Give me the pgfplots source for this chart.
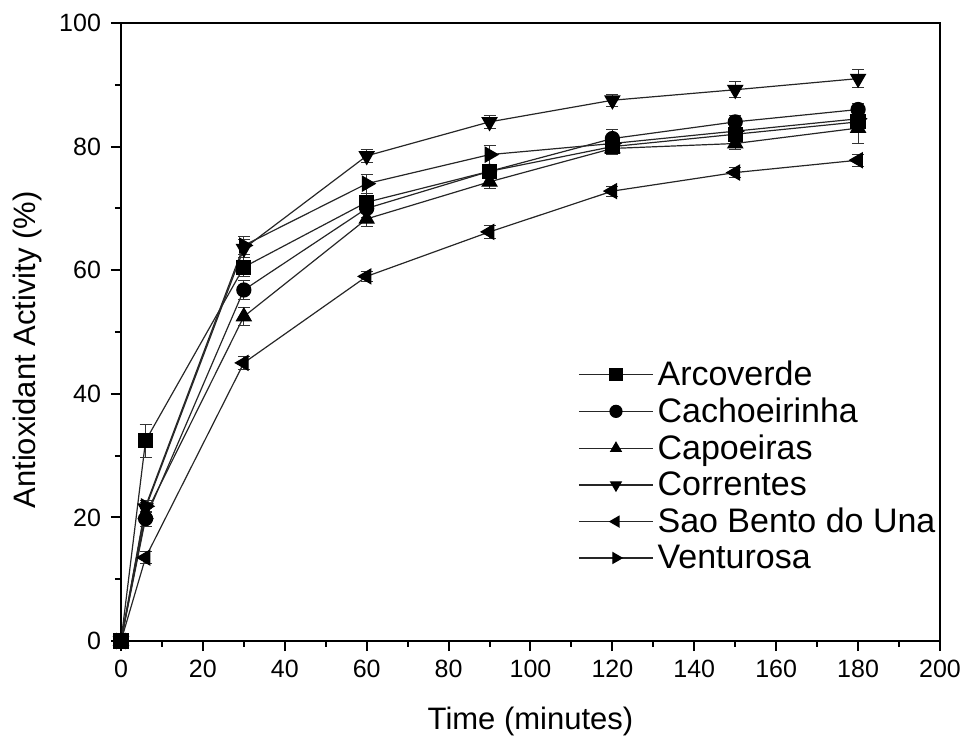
\documentclass[border=0pt]{standalone}
\usepackage{pgfplots}
\pgfplotsset{compat=1.18}
\usepackage{fontspec}
\setmainfont{Liberation Sans}
\begin{document}
\begin{tikzpicture}
\useasboundingbox (-60.5pt,-49.5pt) rectangle (422.5pt,320.5pt);
\begin{axis}[
  at={(0,0)}, anchor=south west,
  scale only axis, width=409.5pt, height=309pt,
  xmin=0, xmax=200, ymin=0, ymax=100,
  xtick={0,20,...,200}, ytick={0,20,...,100},
  minor xtick={10,30,...,190}, minor ytick={10,30,...,90},
  tick pos=left, tick align=outside,
  major tick length=5pt, minor tick length=3pt,
  tick style={black, line width=1pt},
  axis line style={line width=1pt},
  /pgf/number format/assume math mode=true,
  ticklabel style={font=\fontsize{12.5}{14}\selectfont},
  yticklabel style={xshift=-1.5pt},
  xticklabel style={yshift=-1pt},
  xlabel={Time (minutes)}, ylabel={Antioxidant Activity (\%)},
  label style={font=\fontsize{15.5}{17}\selectfont},
  xlabel style={yshift=-8pt},
  ylabel style={yshift=2pt, xshift=-9pt},
  legend style={draw=none, fill=none, at={(0.558,0.461)}, anchor=north west,
    font=\fontsize{17}{19}\selectfont, row sep=0.7pt, inner sep=0pt},
  legend cell align=left,
  legend image code/.code={\draw[mark repeat=2,mark phase=2,mark size=3pt] plot coordinates {(0cm,0cm) (0.65cm,0cm) (1.3cm,0cm)};},
  error bars/y dir=both, error bars/y explicit,
  error bars/error bar style={line width=0.5pt, black!80},
  error bars/error mark options={rotate=90, mark size=3pt, black!80},
]
\addplot[black!85, line width=0.6pt, mark=square*, mark size=3.5pt, mark options={solid, fill=black, draw=black}] coordinates {
 (0,0) +- (0,0) (6,32.4) +- (0,2.7) (30,60.5) +- (0,1.5) (60,71) +- (0,1.5) (90,76) +- (0,1.2) (120,80) +- (0,1) (150,82) +- (0,1.2) (180,84) +- (0,1.2)};
\addlegendentry{Arcoverde}
\addplot[black!85, line width=0.6pt, mark=*, mark size=3.5pt, mark options={solid, fill=black, draw=black}] coordinates {
 (0,0) +- (0,0) (6,19.8) +- (0,1.2) (30,56.8) +- (0,1.5) (60,70) +- (0,1.5) (90,76) +- (0,1.2) (120,81.3) +- (0,1.5) (150,84) +- (0,1) (180,86) +- (0,1)};
\addlegendentry{Cachoeirinha}
\addplot[black!85, line width=0.6pt, mark=triangle*, mark size=4.2pt, mark options={solid, fill=black, draw=black}] coordinates {
 (0,0) +- (0,0) (6,20.5) +- (0,1) (30,52.5) +- (0,1.5) (60,68.3) +- (0,1.2) (90,74.3) +- (0,1) (120,79.7) +- (0,1) (150,80.5) +- (0,1) (180,83) +- (0,2.5)};
\addlegendentry{Capoeiras}
\addplot[black!85, line width=0.6pt, mark=triangle*, mark size=4.2pt, mark options={solid, fill=black, draw=black, rotate=180}] coordinates {
 (0,0) +- (0,0) (6,21.5) +- (0,1) (30,63.5) +- (0,1.5) (60,78.5) +- (0,1) (90,84) +- (0,1) (120,87.5) +- (0,1) (150,89.2) +- (0,1.3) (180,91) +- (0,1.5)};
\addlegendentry{Correntes}
\addplot[black!85, line width=0.6pt, mark=triangle*, mark size=4.2pt, mark options={solid, fill=black, draw=black, rotate=90}] coordinates {
 (0,0) +- (0,0) (6,13.5) +- (0,1) (30,45) +- (0,1) (60,59) +- (0,0.8) (90,66.2) +- (0,1) (120,72.8) +- (0,0.8) (150,75.8) +- (0,0.8) (180,77.8) +- (0,1)};
\addlegendentry{Sao Bento do Una}
\addplot[black!85, line width=0.6pt, mark=triangle*, mark size=4.2pt, mark options={solid, fill=black, draw=black, rotate=-90}] coordinates {
 (0,0) +- (0,0) (6,21.8) +- (0,1) (30,64) +- (0,1.5) (60,74) +- (0,1.5) (90,78.7) +- (0,1.5) (120,80.5) +- (0,1) (150,82.5) +- (0,1) (180,84.5) +- (0,1)};
\addlegendentry{Venturosa}
\end{axis}
\end{tikzpicture}
\end{document}
